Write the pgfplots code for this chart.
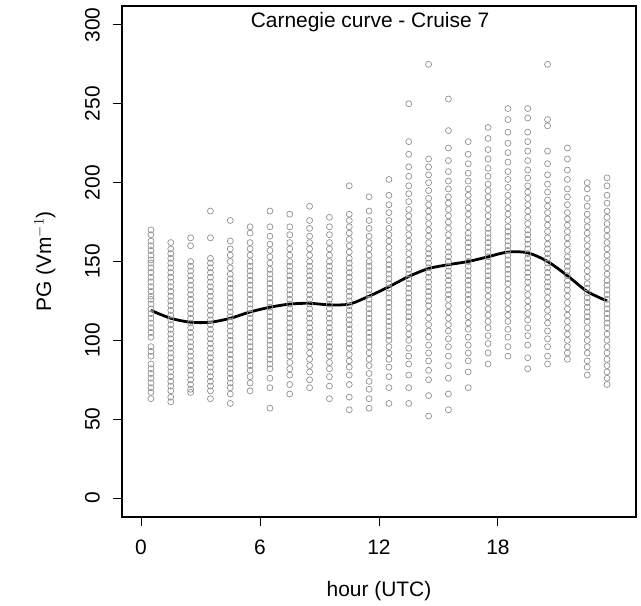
\documentclass[border=0pt]{standalone}
\usepackage{pgfplots}
\pgfplotsset{compat=1.18}
\usepackage{fontspec}
\setmainfont{Liberation Sans}
\definecolor{ptgray}{RGB}{145,145,145}
\begin{document}
\begin{tikzpicture}[font=\fontsize{21}{25}\selectfont]
\begin{axis}[
  scale only axis, width=514bp, height=511bp,
  xmin=-0.96, xmax=24.96, ymin=-12, ymax=312,
  xtick={0,6,12,18}, ytick={0,50,...,300},
  /pgf/number format/assume math mode=true,
  tick align=outside, major tick length=9bp,
  axis line style={line width=1.1bp},
  every tick/.style={black, line width=1bp},
  xtick pos=bottom, ytick pos=left,
  xticklabel style={anchor=north, inner sep=0pt, yshift=-14bp},
  yticklabel style={rotate=90, anchor=south, inner sep=0pt, yshift=13bp},
  xlabel={hour (UTC)}, ylabel={PG (Vm$^{-1}$)},
  xlabel style={at={(axis description cs:0.5,0)}, anchor=center, yshift=-74bp},
  ylabel style={at={(axis description cs:0,0.5)}, anchor=center, yshift=77bp},
  clip=false,
]
\addplot[only marks, mark=o, mark size=3bp, ptgray, mark options={line width=0.7bp}] coordinates {
(0.5,170)(0.5,167)(0.5,163)(0.5,160)(0.5,157)(0.5,154)(0.5,151)(0.5,149)(0.5,146)(0.5,143)(0.5,140)(0.5,137)(0.5,134)(0.5,131)(0.5,128)(0.5,126)(0.5,123)(0.5,120)(0.5,117)(0.5,114)(0.5,111)(0.5,108)(0.5,105)(0.5,102)(0.5,96)(0.5,93)(0.5,90)(0.5,85)(0.5,82)(0.5,79)(0.5,76)(0.5,73)(0.5,70)(0.5,67)(0.5,63)
(1.5,162)(1.5,158)(1.5,155)(1.5,152)(1.5,149)(1.5,146)(1.5,143)(1.5,140)(1.5,137)(1.5,134)(1.5,131)(1.5,128)(1.5,125)(1.5,122)(1.5,119)(1.5,116)(1.5,113)(1.5,110)(1.5,107)(1.5,104)(1.5,101)(1.5,98)(1.5,95)(1.5,92)(1.5,89)(1.5,86)(1.5,83)(1.5,80)(1.5,77)(1.5,74)(1.5,71)(1.5,68)(1.5,64)(1.5,61)
(2.5,165)(2.5,160)(2.5,150)(2.5,147)(2.5,144)(2.5,141)(2.5,138)(2.5,135)(2.5,132)(2.5,129)(2.5,126)(2.5,123)(2.5,120)(2.5,117)(2.5,114)(2.5,111)(2.5,108)(2.5,105)(2.5,102)(2.5,99)(2.5,96)(2.5,93)(2.5,90)(2.5,87)(2.5,84)(2.5,81)(2.5,78)(2.5,75)(2.5,72)(2.5,69)(2.5,67)
(3.5,182)(3.5,165)(3.5,152)(3.5,149)(3.5,146)(3.5,143)(3.5,140)(3.5,137)(3.5,134)(3.5,131)(3.5,128)(3.5,125)(3.5,122)(3.5,119)(3.5,116)(3.5,113)(3.5,110)(3.5,107)(3.5,104)(3.5,101)(3.5,98)(3.5,95)(3.5,92)(3.5,89)(3.5,86)(3.5,83)(3.5,80)(3.5,77)(3.5,74)(3.5,71)(3.5,68)(3.5,63)
(4.5,176)(4.5,163)(4.5,158)(4.5,154)(4.5,150)(4.5,146)(4.5,142)(4.5,139)(4.5,136)(4.5,133)(4.5,130)(4.5,127)(4.5,124)(4.5,121)(4.5,118)(4.5,115)(4.5,112)(4.5,109)(4.5,106)(4.5,103)(4.5,100)(4.5,97)(4.5,94)(4.5,91)(4.5,88)(4.5,85)(4.5,82)(4.5,79)(4.5,76)(4.5,73)(4.5,70)(4.5,66)(4.5,60)
(5.5,172)(5.5,168)(5.5,162)(5.5,158)(5.5,154)(5.5,150)(5.5,147)(5.5,144)(5.5,141)(5.5,138)(5.5,135)(5.5,132)(5.5,129)(5.5,126)(5.5,123)(5.5,120)(5.5,117)(5.5,114)(5.5,111)(5.5,108)(5.5,105)(5.5,102)(5.5,99)(5.5,96)(5.5,93)(5.5,90)(5.5,87)(5.5,84)(5.5,81)(5.5,77)(5.5,73)(5.5,68)
(6.5,182)(6.5,172)(6.5,166)(6.5,161)(6.5,157)(6.5,153)(6.5,149)(6.5,145)(6.5,142)(6.5,139)(6.5,136)(6.5,133)(6.5,130)(6.5,127)(6.5,124)(6.5,121)(6.5,118)(6.5,115)(6.5,112)(6.5,109)(6.5,106)(6.5,103)(6.5,100)(6.5,97)(6.5,94)(6.5,91)(6.5,88)(6.5,85)(6.5,82)(6.5,76)(6.5,70)(6.5,57)
(7.5,180)(7.5,172)(7.5,167)(7.5,162)(7.5,158)(7.5,154)(7.5,150)(7.5,147)(7.5,144)(7.5,141)(7.5,138)(7.5,135)(7.5,132)(7.5,129)(7.5,126)(7.5,123)(7.5,120)(7.5,117)(7.5,114)(7.5,111)(7.5,108)(7.5,105)(7.5,102)(7.5,99)(7.5,96)(7.5,93)(7.5,90)(7.5,86)(7.5,82)(7.5,78)(7.5,72)(7.5,66)
(8.5,185)(8.5,176)(8.5,171)(8.5,166)(8.5,162)(8.5,158)(8.5,154)(8.5,150)(8.5,147)(8.5,144)(8.5,141)(8.5,138)(8.5,135)(8.5,132)(8.5,129)(8.5,126)(8.5,123)(8.5,120)(8.5,117)(8.5,114)(8.5,111)(8.5,108)(8.5,105)(8.5,102)(8.5,99)(8.5,96)(8.5,92)(8.5,88)(8.5,84)(8.5,80)(8.5,75)(8.5,70)
(9.5,178)(9.5,172)(9.5,167)(9.5,162)(9.5,158)(9.5,154)(9.5,150)(9.5,147)(9.5,144)(9.5,141)(9.5,138)(9.5,135)(9.5,132)(9.5,129)(9.5,126)(9.5,123)(9.5,120)(9.5,117)(9.5,114)(9.5,111)(9.5,108)(9.5,105)(9.5,102)(9.5,99)(9.5,96)(9.5,93)(9.5,90)(9.5,86)(9.5,82)(9.5,77)(9.5,71)(9.5,63)
(10.5,198)(10.5,180)(10.5,176)(10.5,172)(10.5,168)(10.5,164)(10.5,160)(10.5,156)(10.5,152)(10.5,149)(10.5,146)(10.5,143)(10.5,140)(10.5,137)(10.5,134)(10.5,131)(10.5,128)(10.5,125)(10.5,122)(10.5,119)(10.5,116)(10.5,113)(10.5,110)(10.5,107)(10.5,104)(10.5,101)(10.5,98)(10.5,95)(10.5,91)(10.5,87)(10.5,83)(10.5,78)(10.5,72)(10.5,64)(10.5,56)
(11.5,191)(11.5,182)(11.5,176)(11.5,171)(11.5,166)(11.5,162)(11.5,158)(11.5,154)(11.5,150)(11.5,147)(11.5,144)(11.5,141)(11.5,138)(11.5,135)(11.5,132)(11.5,129)(11.5,126)(11.5,123)(11.5,120)(11.5,117)(11.5,114)(11.5,111)(11.5,108)(11.5,105)(11.5,102)(11.5,99)(11.5,96)(11.5,92)(11.5,88)(11.5,84)(11.5,79)(11.5,74)(11.5,69)(11.5,63)(11.5,57)
(12.5,202)(12.5,192)(12.5,186)(12.5,181)(12.5,176)(12.5,171)(12.5,167)(12.5,163)(12.5,159)(12.5,155)(12.5,151)(12.5,148)(12.5,145)(12.5,142)(12.5,139)(12.5,136)(12.5,133)(12.5,130)(12.5,127)(12.5,124)(12.5,121)(12.5,118)(12.5,115)(12.5,112)(12.5,109)(12.5,106)(12.5,103)(12.5,100)(12.5,96)(12.5,92)(12.5,88)(12.5,83)(12.5,77)(12.5,70)(12.5,60)
(13.5,250)(13.5,226)(13.5,218)(13.5,210)(13.5,204)(13.5,198)(13.5,193)(13.5,188)(13.5,183)(13.5,179)(13.5,175)(13.5,171)(13.5,167)(13.5,163)(13.5,159)(13.5,155)(13.5,151)(13.5,148)(13.5,145)(13.5,142)(13.5,139)(13.5,136)(13.5,133)(13.5,130)(13.5,127)(13.5,124)(13.5,121)(13.5,118)(13.5,115)(13.5,112)(13.5,108)(13.5,104)(13.5,100)(13.5,95)(13.5,90)(13.5,85)(13.5,78)(13.5,70)(13.5,60)
(14.5,275)(14.5,215)(14.5,210)(14.5,205)(14.5,200)(14.5,195)(14.5,190)(14.5,186)(14.5,182)(14.5,178)(14.5,174)(14.5,170)(14.5,166)(14.5,162)(14.5,158)(14.5,155)(14.5,152)(14.5,149)(14.5,146)(14.5,143)(14.5,140)(14.5,137)(14.5,134)(14.5,131)(14.5,128)(14.5,125)(14.5,122)(14.5,118)(14.5,114)(14.5,110)(14.5,106)(14.5,102)(14.5,97)(14.5,92)(14.5,87)(14.5,81)(14.5,75)(14.5,65)(14.5,52)
(15.5,253)(15.5,233)(15.5,222)(15.5,214)(15.5,207)(15.5,201)(15.5,196)(15.5,191)(15.5,187)(15.5,183)(15.5,179)(15.5,175)(15.5,171)(15.5,167)(15.5,163)(15.5,159)(15.5,156)(15.5,153)(15.5,150)(15.5,147)(15.5,144)(15.5,141)(15.5,138)(15.5,135)(15.5,132)(15.5,129)(15.5,126)(15.5,122)(15.5,118)(15.5,114)(15.5,110)(15.5,106)(15.5,101)(15.5,96)(15.5,90)(15.5,84)(15.5,76)(15.5,66)(15.5,56)
(16.5,226)(16.5,218)(16.5,212)(16.5,206)(16.5,201)(16.5,196)(16.5,192)(16.5,188)(16.5,184)(16.5,180)(16.5,176)(16.5,172)(16.5,168)(16.5,165)(16.5,162)(16.5,159)(16.5,156)(16.5,153)(16.5,150)(16.5,147)(16.5,144)(16.5,141)(16.5,138)(16.5,135)(16.5,132)(16.5,129)(16.5,126)(16.5,123)(16.5,119)(16.5,115)(16.5,111)(16.5,107)(16.5,102)(16.5,97)(16.5,92)(16.5,87)(16.5,80)(16.5,70)
(17.5,235)(17.5,228)(17.5,221)(17.5,215)(17.5,209)(17.5,204)(17.5,199)(17.5,195)(17.5,191)(17.5,187)(17.5,183)(17.5,179)(17.5,175)(17.5,171)(17.5,168)(17.5,165)(17.5,162)(17.5,159)(17.5,156)(17.5,153)(17.5,150)(17.5,147)(17.5,144)(17.5,141)(17.5,138)(17.5,135)(17.5,132)(17.5,128)(17.5,124)(17.5,120)(17.5,116)(17.5,112)(17.5,108)(17.5,103)(17.5,98)(17.5,92)(17.5,85)
(18.5,247)(18.5,240)(18.5,232)(18.5,225)(18.5,219)(18.5,213)(18.5,207)(18.5,202)(18.5,197)(18.5,192)(18.5,188)(18.5,184)(18.5,180)(18.5,176)(18.5,172)(18.5,169)(18.5,166)(18.5,163)(18.5,160)(18.5,157)(18.5,154)(18.5,151)(18.5,148)(18.5,145)(18.5,142)(18.5,139)(18.5,136)(18.5,132)(18.5,128)(18.5,124)(18.5,120)(18.5,116)(18.5,112)(18.5,107)(18.5,102)(18.5,96)(18.5,90)
(19.5,247)(19.5,241)(19.5,232)(19.5,226)(19.5,220)(19.5,214)(19.5,208)(19.5,203)(19.5,198)(19.5,194)(19.5,190)(19.5,186)(19.5,182)(19.5,178)(19.5,174)(19.5,170)(19.5,167)(19.5,164)(19.5,161)(19.5,158)(19.5,155)(19.5,152)(19.5,149)(19.5,146)(19.5,143)(19.5,140)(19.5,137)(19.5,133)(19.5,129)(19.5,125)(19.5,121)(19.5,117)(19.5,113)(19.5,108)(19.5,103)(19.5,97)(19.5,89)(19.5,82)
(20.5,275)(20.5,240)(20.5,236)(20.5,220)(20.5,212)(20.5,205)(20.5,199)(20.5,194)(20.5,189)(20.5,185)(20.5,181)(20.5,177)(20.5,173)(20.5,169)(20.5,165)(20.5,161)(20.5,158)(20.5,155)(20.5,152)(20.5,149)(20.5,146)(20.5,143)(20.5,140)(20.5,137)(20.5,134)(20.5,131)(20.5,127)(20.5,123)(20.5,119)(20.5,115)(20.5,111)(20.5,106)(20.5,101)(20.5,96)(20.5,90)(20.5,85)
(21.5,222)(21.5,215)(21.5,208)(21.5,202)(21.5,196)(21.5,191)(21.5,186)(21.5,181)(21.5,177)(21.5,173)(21.5,169)(21.5,165)(21.5,161)(21.5,157)(21.5,153)(21.5,150)(21.5,147)(21.5,144)(21.5,141)(21.5,138)(21.5,135)(21.5,132)(21.5,128)(21.5,124)(21.5,120)(21.5,116)(21.5,112)(21.5,108)(21.5,104)(21.5,100)(21.5,96)(21.5,92)(21.5,88)
(22.5,200)(22.5,196)(22.5,190)(22.5,185)(22.5,180)(22.5,176)(22.5,172)(22.5,168)(22.5,164)(22.5,160)(22.5,156)(22.5,152)(22.5,148)(22.5,144)(22.5,140)(22.5,136)(22.5,133)(22.5,130)(22.5,127)(22.5,124)(22.5,121)(22.5,118)(22.5,115)(22.5,112)(22.5,108)(22.5,104)(22.5,100)(22.5,96)(22.5,92)(22.5,87)(22.5,83)(22.5,78)
(23.5,203)(23.5,198)(23.5,192)(23.5,187)(23.5,182)(23.5,178)(23.5,174)(23.5,170)(23.5,166)(23.5,162)(23.5,158)(23.5,154)(23.5,150)(23.5,146)(23.5,142)(23.5,138)(23.5,135)(23.5,132)(23.5,129)(23.5,126)(23.5,123)(23.5,120)(23.5,117)(23.5,114)(23.5,111)(23.5,108)(23.5,104)(23.5,100)(23.5,96)(23.5,92)(23.5,88)(23.5,84)(23.5,80)(23.5,76)(23.5,72)
};
\addplot[black, line width=2.8bp, smooth, no marks] coordinates {
(0.5,119)(1.5,114)(2.5,111.5)(3.5,111.5)(4.5,114)(5.5,118)(6.5,121)(7.5,123)(8.5,123.5)(9.5,122.5)(10.5,123)(11.5,128)(12.5,134)(13.5,140.5)(14.5,145.5)(15.5,148)(16.5,150)(17.5,153)(18.5,156)(19.5,155.5)(20.5,150)(21.5,141)(22.5,131)(23.5,125)
};
\node[anchor=center, inner sep=0pt] at (rel axis cs:0.4825,0.969) {Carnegie curve - Cruise 7};
\end{axis}
\path ([xshift=-122bp,yshift=-89bp]current axis.south west) rectangle ([xshift=5bp,yshift=6bp]current axis.north east);
\end{tikzpicture}
\end{document}
